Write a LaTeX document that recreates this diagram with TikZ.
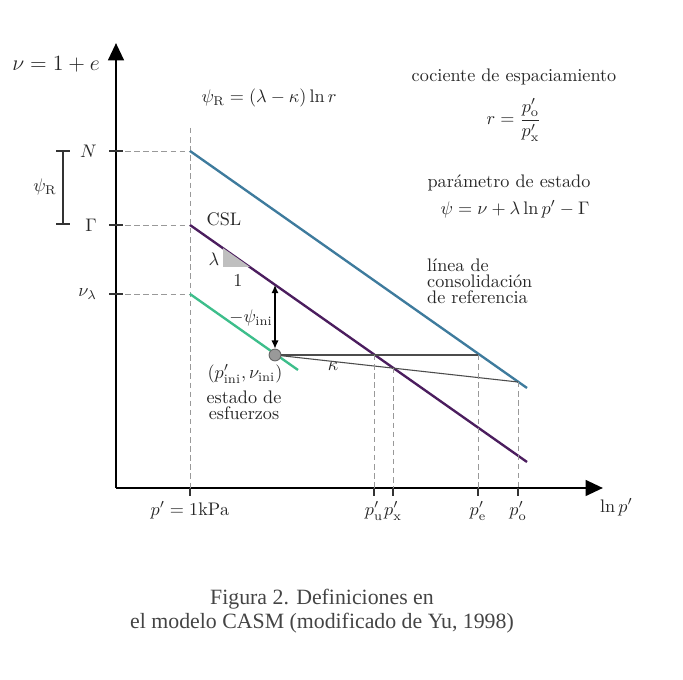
\documentclass[tikz,border=0pt]{standalone}
\usepackage{amsmath}
\usepackage{fontspec}
\newfontfamily\capfont{Liberation Serif}
\usetikzlibrary{arrows.meta,calc}
\definecolor{nclblue}{HTML}{3E7B9D}
\definecolor{cslpurple}{HTML}{4B1D5E}
\definecolor{inigreen}{HTML}{3DBE8B}
\definecolor{capgray}{HTML}{444444}

\begin{document}
\begin{tikzpicture}[x=0.55pt, y=-0.55pt,
	axis/.style={line width=1.5pt, -{Triangle[length=9.5pt,width=8.5pt]}},
	guide/.style={black!40, line width=0.5pt, dash pattern=on 3pt off 2pt},
	ticky/.style={line width=0.8pt, black!80},
	stateline/.style={line width=1.3pt},
	path/.style={line width=0.6pt, black!70},
	lbl/.style={text=black!85, inner sep=1pt},
	txt/.style={text=black!85, inner sep=1pt, align=left, font=\fontsize{10}{8.8}\selectfont}]
	\useasboundingbox (0,0) rectangle (683,680);
	%%%%% START %%%%%
	
	% points of the plot
	\coordinate (O) at (116, 488);
	\coordinate (ytop) at (116, 43);
	\coordinate (xend) at (603, 488);
	\coordinate (N) at (190, 151);
	\coordinate (G) at (190, 225);
	\coordinate (L) at (190, 294);
	\coordinate (reftop) at (190, 128);
	\coordinate (refbot) at (190, 488);
	\coordinate (nclend) at (527, 388);
	\coordinate (cslend) at (527, 462);
	\coordinate (greenend) at (298, 370);
	\coordinate (csltop) at (275, 285);
	\coordinate (pu) at (374, 355);
	\coordinate (px) at (393, 368);
	\coordinate (pe) at (478, 355);
	\coordinate (po) at (518, 382);
	
	% axes
	\draw[axis] (O) -- (ytop);
	\draw[axis] (O) -- (xend);
	\node[lbl, anchor=east, font=\fontsize{11.5}{13}\selectfont] (nulbl) at (102, 64) {$\nu = 1 + e$};
	\node[lbl, anchor=west] (lnp) at (598, 507) {$\ln p'$};
	
	% levels on the volume axis
	\foreach \pt/\txt in {N/$N$, G/$\Gamma$, L/$\nu_\lambda$} {
		\draw[guide] (O |- \pt) -- (\pt);
		\draw[ticky] ($(O |- \pt)+(-7,0)$) -- ($(O |- \pt)+(7,0)$);
		\node[lbl, anchor=east] at ($(O |- \pt)+(-17,0)$) {\txt};
	}
	\draw[guide] (reftop) -- (refbot);
	
	% psi_R bracket
	\coordinate (brtop) at (63, 151);
	\coordinate (brbot) at (63, 224);
	\draw[line width=0.8pt, black!80] (brtop) -- (brbot);
	\draw[line width=1.2pt, black!80] ($(brtop)+(-7,0)$) -- ($(brtop)+(7,0)$);
	\draw[line width=1.2pt, black!80] ($(brbot)+(-7,0)$) -- ($(brbot)+(7,0)$);
	\node[lbl] (psiR) at (45, 187) {$\psi_{\mathrm{R}}$};
	
	% lines
	\draw[stateline, nclblue] (N) -- (nclend);
	\draw[stateline, cslpurple] (G) -- (cslend);
	\draw[stateline, inigreen] (L) -- (greenend);
	
	% slope triangle
	\fill[black!25] (223, 248) -- (223, 267) -- (250, 267) -- cycle;
	\node[lbl] (lam) at (214, 259) {$\lambda$};
	\node[lbl] (one) at (238, 281) {$1$};
	\node[lbl] (csl) at (224, 219) {CSL};
	
	% initial state
	\node[circle, draw=black!60, fill=black!40, line width=0.5pt, minimum size=6.5pt, inner sep=0pt] (ini) at (275, 355) {};
	\draw[path] (ini) -- (pe);
	\draw[path] (ini) -- (po);
	\draw[line width=0.7pt, {Latex[length=4.5pt,width=4pt]}-{Latex[length=4.5pt,width=4pt]}] (ini.north) -- (csltop);
	\node[lbl] (psiini) at (251, 318) {$-\psi_{\mathrm{ini}}$};
	\node[lbl] (kap) at (333, 367) {$\kappa$};
	\node[lbl] (inilbl) at (245, 374) {$(p'_{\mathrm{ini}},\nu_{\mathrm{ini}})$};
	\node[txt, align=center] (estado) at (244, 405) {estado de\\esfuerzos};
	
	% pressures on the ln p' axis
	\foreach \pt/\txt in {pu/u, px/x, pe/e, po/o} {
		\draw[guide] (\pt) -- (\pt |- O);
		\draw[ticky] (\pt |- O) -- ($(\pt |- O)+(0,8)$);
		\node[lbl] at ($(\pt |- O)+(0,23)$) {$p'_{\mathrm{\txt}}$};
	}
	\draw[ticky] (refbot) -- ($(refbot)+(0,8)$);
	\node[lbl] (onekpa) at (190, 510) {$p' = 1\mathrm{kPa}$};
	
	% texts
	\node[lbl] (psiRdef) at (269, 98) {$\psi_{\mathrm{R}} = (\lambda - \kappa)\ln r$};
	\node[lbl] (coc) at (514, 77) {cociente de espaciamiento};
	\node[lbl, inner sep=0pt] (rdef) at (514, 120) {$r = \dfrac{p'_{\mathrm{o}}}{p'_{\mathrm{x}}}$};
	\node[lbl] (param) at (509, 183) {par\'ametro de estado};
	\node[lbl] (psidef) at (515, 209) {$\psi = \nu + \lambda \ln p' - \Gamma$};
	\node[txt, anchor=north west] (ncl) at (425, 257) {l\'inea de\\consolidaci\'on\\de referencia};
	
	% caption
	\node[text=capgray, align=center, font=\capfont\fontsize{12}{13}\selectfont] (cap) at (322, 611) {Figura 2. Definiciones en\\el modelo CASM (modificado de Yu, 1998)};
	
	%%%%% END %%%%%
\end{tikzpicture}
\end{document}
